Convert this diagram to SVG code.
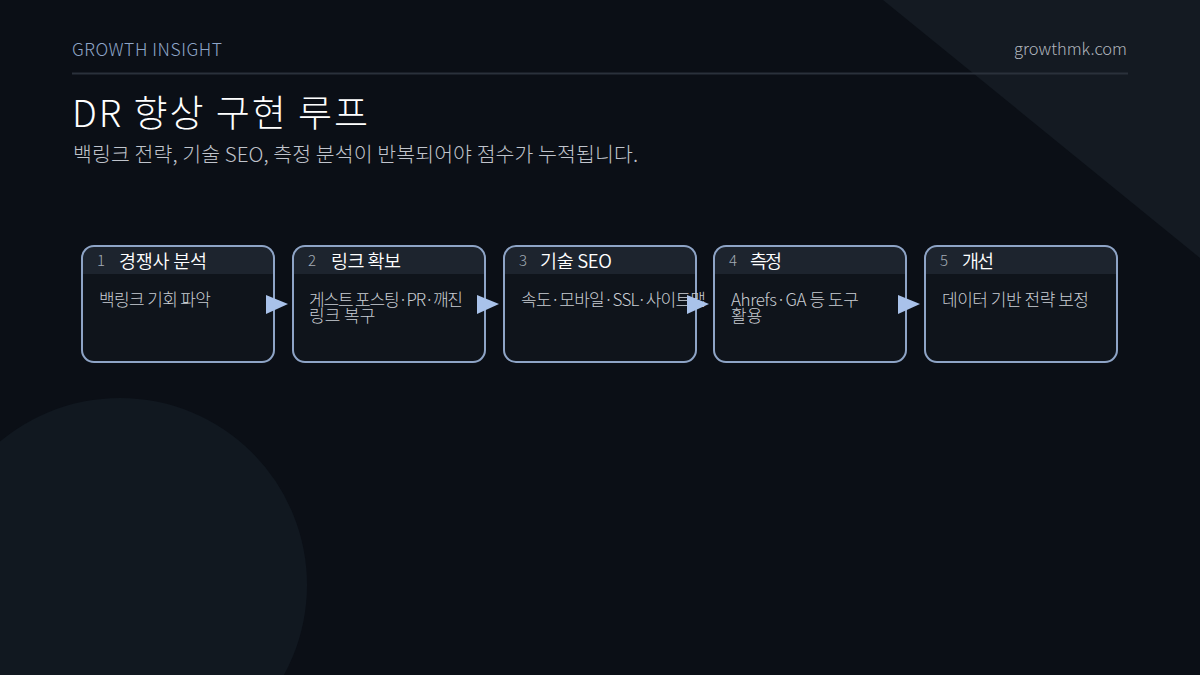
<svg xmlns="http://www.w3.org/2000/svg" width="1200" height="675" viewBox="0 0 1200 675">
<defs>
<style>
text{font-family:"Noto Sans CJK KR","Noto Sans",sans-serif;font-weight:300}
.box{fill:#0f141b}
.frame{fill:none;stroke:#8ea4c6;stroke-width:2}
.hdr{fill:#1d242e}
.num{font-size:15px;fill:#a3abb5}
.ttl{font-size:18.5px;fill:#ffffff;font-weight:350}
.body{font-size:17px;fill:#c9cdd3}
.arr{fill:#a9c2ea}
</style>
<clipPath id="c1"><rect x="82" y="246" width="192" height="116" rx="12"/></clipPath>
<clipPath id="c2"><rect x="293" y="246" width="192" height="116" rx="12"/></clipPath>
<clipPath id="c3"><rect x="504" y="246" width="192" height="116" rx="12"/></clipPath>
<clipPath id="c4"><rect x="714" y="246" width="192" height="116" rx="12"/></clipPath>
<clipPath id="c5"><rect x="925" y="246" width="192" height="116" rx="12"/></clipPath>
</defs>
<rect width="1200" height="675" fill="#0b0f16"/>
<polygon points="883,0 1200,0 1200,258" fill="#141a22"/>
<circle cx="120" cy="585" r="187" fill="#111820"/>
<text x="72" y="56" font-size="17.5" fill="#8fa6c8" textLength="150">GROWTH INSIGHT</text>
<text x="1127" y="55" font-size="16.5" fill="#b0b5bd" text-anchor="end">growthmk.com</text>
<line x1="72" y1="73.5" x2="1128" y2="73.5" stroke="#2a313b" stroke-width="2"/>
<text x="72" y="127" font-size="37" fill="#ffffff" textLength="296">DR 향상 구현 루프</text>
<text x="73" y="162" font-size="20.5" fill="#c0c4cc" textLength="565">백링크 전략, 기술 SEO, 측정 분석이 반복되어야 점수가 누적됩니다.</text>

<g id="node1">
<rect class="box" x="82" y="246" width="192" height="116" rx="12"/>
<rect class="hdr" x="82" y="246" width="192" height="28" clip-path="url(#c1)"/>
<rect class="frame" x="82" y="246" width="192" height="116" rx="12"/>
<text class="num" x="97" y="266">1</text>
<text class="ttl" x="119" y="268" textLength="88">경쟁사 분석</text>
<text class="body" x="99" y="305.5" textLength="112">백링크 기회 파악</text>
</g>
<g id="node2">
<rect class="box" x="293" y="246" width="192" height="116" rx="12"/>
<rect class="hdr" x="293" y="246" width="192" height="28" clip-path="url(#c2)"/>
<rect class="frame" x="293" y="246" width="192" height="116" rx="12"/>
<text class="num" x="308" y="266">2</text>
<text class="ttl" x="331" y="268" textLength="70">링크 확보</text>
<text class="body" x="309" y="305.5" textLength="154">게스트 포스팅·PR·깨진</text>
<text class="body" x="309" y="322">링크 복구</text>
</g>
<g id="node3">
<rect class="box" x="504" y="246" width="192" height="116" rx="12"/>
<rect class="hdr" x="504" y="246" width="192" height="28" clip-path="url(#c3)"/>
<rect class="frame" x="504" y="246" width="192" height="116" rx="12"/>
<text class="num" x="519" y="266">3</text>
<text class="ttl" x="540" y="268" textLength="72">기술 SEO</text>
<text class="body" x="521" y="305.5" textLength="185">속도·모바일·SSL·사이트맵</text>
</g>
<g id="node4">
<rect class="box" x="714" y="246" width="192" height="116" rx="12"/>
<rect class="hdr" x="714" y="246" width="192" height="28" clip-path="url(#c4)"/>
<rect class="frame" x="714" y="246" width="192" height="116" rx="12"/>
<text class="num" x="729" y="266">4</text>
<text class="ttl" x="750" y="268" textLength="32">측정</text>
<text class="body" x="731" y="305.5" textLength="128">Ahrefs·GA 등 도구</text>
<text class="body" x="731" y="322">활용</text>
</g>
<g id="node5">
<rect class="box" x="925" y="246" width="192" height="116" rx="12"/>
<rect class="hdr" x="925" y="246" width="192" height="28" clip-path="url(#c5)"/>
<rect class="frame" x="925" y="246" width="192" height="116" rx="12"/>
<text class="num" x="940" y="266">5</text>
<text class="ttl" x="962" y="268" textLength="32">개선</text>
<text class="body" x="942" y="305.5" textLength="147">데이터 기반 전략 보정</text>
</g>

<g id="connectors">
<polygon class="arr" points="266,295 288,304 266,314"/>
<polygon class="arr" points="477,295 499,304 477,314"/>
<polygon class="arr" points="687,295 709,304 687,314"/>
<polygon class="arr" points="898,295 920,304 898,314"/>
</g>
</svg>
